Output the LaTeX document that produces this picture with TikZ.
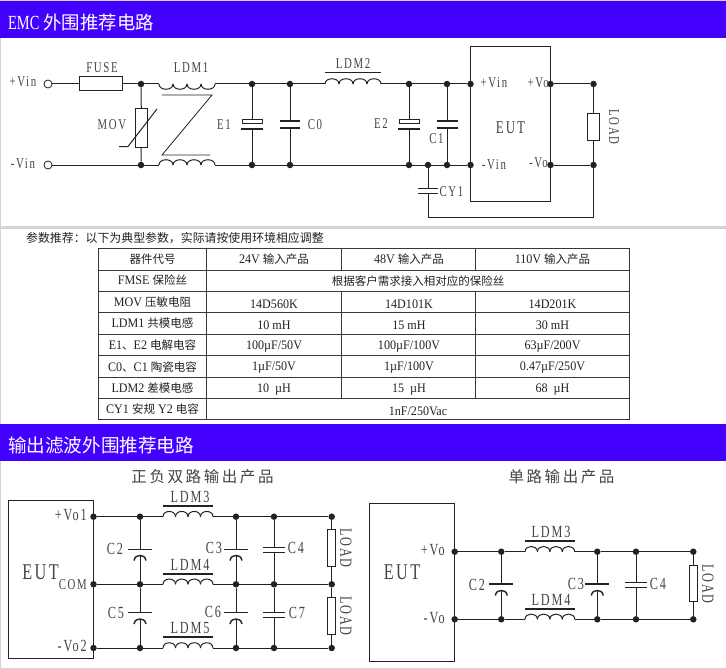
\documentclass[tikz,border=0pt]{standalone}
\usepackage{fontspec}
\usetikzlibrary{calc}
\setmainfont{Liberation Serif}
\newfontfamily\cjkfont{Noto Sans CJK SC}[Scale=1.0]
\newfontfamily\labfont[LetterSpace=11,FakeStretch=0.72]{Liberation Serif}
\newfontfamily\cellfont[FakeStretch=0.93]{Liberation Serif}
\newfontfamily\headfont[FakeStretch=0.72]{Liberation Serif}
\definecolor{banner}{HTML}{4400FF}
\definecolor{ink}{HTML}{222222}
\definecolor{lbl}{HTML}{444444}
\definecolor{frame}{HTML}{D4D4D4}
\newcommand\fsz[1]{\fontsize{#1}{#1}\selectfont}
\tikzset{
  wire/.style={draw=ink,line width=1pt},
  jn/.style={circle,fill=ink,draw=none,inner sep=0pt,minimum size=6.5pt},
  term/.style={circle,fill=white,draw=ink,line width=0.8pt,inner sep=0pt,minimum size=8pt},
  rbox/.style={rectangle,draw=ink,fill=white,line width=1pt,inner sep=0pt},
  lab/.style={font=\labfont\fsz{15},text=lbl,inner sep=0pt},
  labm/.style={font=\labfont\fsz{17},text=lbl,inner sep=0pt},
  cell/.style={font=\cellfont\fsz{13},text=ink,inner sep=0pt},
  ccell/.style={font=\cjkfont\fsz{11.5},text=ink,inner sep=0pt},
  head/.style={font=\fsz{19},text=white,inner sep=0pt,anchor=west},
  tline/.style={draw=ink!90,line width=0.9pt},
}
\newcommand\cj[1]{{\cjkfont\fsz{11.5}#1}}
% coil between two named coordinates, #3 = control height
\newcommand\coil[3]{\foreach \i/\j in {0/.25,.25/.5,.5/.75,.75/1}
  {\draw[wire] ($(#1)!\i!(#2)$) .. controls +(0,#3) and +(0,#3) .. ($(#1)!\j!(#2)$);}}
% name, x, plate1 y, plate2 y, half width, top node, bottom node
\newcommand\capN[7]{\coordinate (#1t) at (#2,#3);\coordinate (#1b) at (#2,#4);
  \draw[wire] (#6) -- (#1t) (#1b) -- (#7);
  \draw[wire,line width=1.3pt] (#2-#5,#3) -- (#2+#5,#3) (#2-#5,#4) -- (#2+#5,#4);}
\newcommand\capE[7]{\coordinate (#1t) at (#2,#3);\coordinate (#1b) at (#2,#4);
  \draw[wire] (#6) -- (#1t) (#1b) -- (#7);
  \draw[wire] (#2-#5+1,#3) rectangle (#2+#5-1,#3+4);
  \draw[wire,line width=1.3pt] (#2-#5,#4) -- (#2+#5,#4);}
\newcommand\capP[7]{\coordinate (#1t) at (#2,#3);\coordinate (#1b) at (#2,#4);
  \draw[wire] (#6) -- (#1t) (#1b) -- (#7);
  \draw[wire,line width=1.4pt] (#2-#5,#3) -- (#2+#5,#3);
  \draw[wire,line width=1.4pt] (#2-6,#4+5) .. controls (#2-5,#4+1) and (#2-3,#4) .. (#1b) .. controls (#2+3,#4) and (#2+5,#4+1) .. (#2+6,#4+5);}
\begin{document}
\begin{tikzpicture}[x=1pt,y=-1pt]
\useasboundingbox (0,0) rectangle (726,669);
\fill[white] (0,0) rectangle (726,669);
% frame and bands
\fill[frame] (0,0) rectangle (726,1.5);
\fill[frame] (0,0) rectangle (1.3,669);
\fill[frame] (0,226) rectangle (726,229);
\fill[frame] (0,667.5) rectangle (726,669);
\fill[banner] (0,1.5) rectangle (726,38);
\fill[banner] (0,423.5) rectangle (726,461);
\node[head] (h1) at (8,22.5) {{\headfont\fsz{20}EMC}\hspace{4pt}{\cjkfont\fsz{18.4}外围推荐电路}};
\node[head] (h2) at (8,445) {\cjkfont\fsz{18.6}输出滤波外围推荐电路};

% ===== EMC circuit =====
\node[term] (inP) at (48,84) {};
\node[term] (inN) at (48,165) {};
\node[rbox,minimum width=43pt,minimum height=14pt] (fuse) at (100.5,84) {};
\node[jn] (a1) at (141,84) {};
\node[jn] (a2) at (141,165) {};
\coordinate (L1a) at (159,84); \coordinate (L1b) at (215,84);
\coordinate (L1c) at (159,165); \coordinate (L1d) at (215,165);
\node[jn] (b1) at (252,84) {};
\node[jn] (b2) at (252,165) {};
\node[jn] (c1) at (290,84) {};
\node[jn] (c2) at (290,165) {};
\coordinate (L2a) at (325,84); \coordinate (L2b) at (381,84);
\node[jn] (d1) at (409,84) {};
\node[jn] (d2) at (409,165) {};
\node[jn] (cy) at (428,165) {};
\node[jn] (f1) at (447,84) {};
\node[jn] (f2) at (447,165) {};
\node[rbox,fill=none,minimum width=80pt,minimum height=154.5pt] (eut) at (510.5,124.25) {};
\node[jn] (g1) at (470.5,84) {};
\node[jn] (g2) at (470.5,165) {};
\node[jn] (o1) at (550.5,84) {};
\node[jn] (o2) at (550.5,165) {};
\node[jn] (l1) at (593.5,84) {};
\node[jn] (l2) at (593.5,165) {};
\node[rbox,minimum width=12pt,minimum height=39pt] (mov) at (141.5,128) {};
\node[rbox,minimum width=12pt,minimum height=27pt] (load1) at (593.5,126.5) {};
\draw[wire] (inP) -- (fuse) -- (a1) -- (L1a);
\draw[wire] (inN) -- (a2) -- (L1c);
\coil{L1a}{L1b}{7}
\coil{L1c}{L1d}{-7}
\draw[wire] (L1b) -- (b1) -- (c1) -- (L2a);
\coil{L2a}{L2b}{-7}
\draw[wire] (L2b) -- (d1) -- (f1) -- (g1);
\draw[wire] (L1d) -- (b2) -- (c2) -- (d2) -- (cy) -- (f2) -- (g2);
\draw[wire] (o1) -- (l1) -- (load1) -- (l2) -- (o2);
\draw[wire] (a1) -- (mov) -- (a2);
\draw[wire] (119,146.5) -- (128,146.5) -- (157,109);
\draw[wire,line width=0.8pt] (162,95) -- (212,95) -- (162,155) -- (210,155);
\draw[wire] (325,73) -- (381,73);
\capE{E1c}{252}{119.5}{129}{11}{b1}{b2}
\capN{C0c}{290}{121}{128}{10}{c1}{c2}
\capE{E2c}{409}{119.5}{129}{11}{d1}{d2}
\capN{C1c}{447}{121}{128}{10.5}{f1}{f2}
\coordinate (rc) at (593.5,217); \coordinate (rd) at (428,217);
\capN{CYc}{428}{188.5}{193.5}{10}{cy}{rd}
\draw[wire] (l2) -- (rc) -- (rd);
% labels
\node[lab] (tFuse) at (102,68) {FUSE};
\node[lab] (tL1) at (191,68) {LDM1};
\node[lab] (tL2) at (353,63.5) {LDM2};
\node[lab] (tVp) at (23,82) {+Vin};
\node[lab] (tVn) at (23,164) {-Vin};
\node[lab] (tMov) at (112,125) {MOV};
\node[lab] (tE1) at (224,124.5) {E1};
\node[lab] (tC0) at (315,124.5) {C0};
\node[lab] (tE2) at (381,124) {E2};
\node[lab] (tC1) at (436.5,139) {C1};
\node[lab] (tCY) at (451.5,192) {CY1};
\node[lab,font=\labfont\fsz{18}] (tEut) at (510.5,127.5) {EUT};
\node[lab] (tIp) at (494,83) {+Vin};
\node[lab] (tIn) at (494,165) {-Vin};
\node[lab,anchor=east] (tOp) at (549,83) {+Vo};
\node[lab,anchor=east] (tOn) at (548,162.5) {-Vo};
\node[lab,rotate=-90] (tLoad) at (614,127) {LOAD};

% ===== table =====
\node[font=\cjkfont\fsz{11.9},text=ink,inner sep=0pt,anchor=west] (note) at (26,238) {参数推荐：以下为典型参数，实际请按使用环境相应调整};
\draw[tline,line width=1.1pt] (98.7,248.3) rectangle (629.3,419.3);
\foreach \yy in {270,291,312.7,334,355.3,377.3,398.3} {\draw[tline] (98.7,\yy) -- (629.3,\yy);}
\draw[tline] (206.5,248.3) -- (206.5,419.3);
\draw[tline] (341.7,248.3) -- (341.7,270) (341.7,291) -- (341.7,398.3);
\draw[tline] (475.7,248.3) -- (475.7,270) (475.7,291) -- (475.7,398.3);
\node[ccell] (r1a) at (152.5,259) {器件代号};
\node[cell] (r1b) at (274,259) {24V \cj{输入产品}};
\node[cell] (r1c) at (409,259) {48V \cj{输入产品}};
\node[cell] (r1d) at (552.5,259) {110V \cj{输入产品}};
\node[cell] (r2a) at (152.5,280.5) {FMSE \cj{保险丝}};
\node[ccell] (r2b) at (418,281) {根据客户需求接入相对应的保险丝};
\node[cell] (r3a) at (152.5,302) {MOV \cj{压敏电阻}};
\node[cell] (r3b) at (274,304) {14D560K};
\node[cell] (r3c) at (409,304) {14D101K};
\node[cell] (r3d) at (552.5,304) {14D201K};
\node[cell] (r4a) at (152.5,323.5) {LDM1 \cj{共模电感}};
\node[cell] (r4b) at (274,325.5) {10 mH};
\node[cell] (r4c) at (409,325.5) {15 mH};
\node[cell] (r4d) at (552.5,325.5) {30 mH};
\node[cell] (r5a) at (152.5,345) {E1\cj{、}E2 \cj{电解电容}};
\node[cell] (r5b) at (274,347) {100µF/50V};
\node[cell] (r5c) at (409,347) {100µF/100V};
\node[cell] (r5d) at (552.5,347) {63µF/200V};
\node[cell] (r6a) at (152.5,367) {C0\cj{、}C1 \cj{陶瓷电容}};
\node[cell] (r6b) at (274,368) {1µF/50V};
\node[cell] (r6c) at (409,368) {1µF/100V};
\node[cell] (r6d) at (552.5,368) {0.47µF/250V};
\node[cell] (r7a) at (152.5,388) {LDM2 \cj{差模电感}};
\node[cell] (r7b) at (274,389.5) {10 \ µH};
\node[cell] (r7c) at (409,389.5) {15 \ µH};
\node[cell] (r7d) at (552.5,389.5) {68 \ µH};
\node[cell] (r8a) at (152.5,409) {CY1 \cj{安规} Y2 \cj{电容}};
\node[cell] (r8b) at (418,411) {1nF/250Vac};

% ===== dual output =====
\node[font=\cjkfont\fsz{15.5},text=lbl,inner sep=0pt] (t3) at (202.5,477) {正\,负\,双\,路\,输\,出\,产\,品};
\node[rbox,fill=none,minimum width=85pt,minimum height=157.5pt] (eut2) at (51,579.25) {};
\node[jn] (p1) at (93.5,516.7) {};
\node[jn] (p2) at (93.5,584.3) {};
\node[jn] (p3) at (93.5,648) {};
\foreach \nm/\xx in {q/140,s/236,u/274,v/331.7}{
  \node[jn] (\nm1) at (\xx,516.7) {};
  \node[jn] (\nm2) at (\xx,584.3) {};
  \node[jn] (\nm3) at (\xx,648) {};
}
\foreach \k/\yy/\by in {1/516.7/506,2/584.3/574,3/648/637.3}{
  \coordinate (la\k) at (163,\yy); \coordinate (lb\k) at (213,\yy);
  \coil{la\k}{lb\k}{-7}
  \draw[wire] (p\k) -- (q\k) -- (la\k);
  \draw[wire] (lb\k) -- (s\k) -- (u\k) -- (v\k);
  \draw[ink,line width=2pt] (163,\by) -- (213,\by);
}
\node[rbox,minimum width=7.5pt,minimum height=37pt] (load2) at (331.7,548.2) {};
\node[rbox,minimum width=7.5pt,minimum height=36.6pt] (load3) at (331.7,616) {};
\draw[wire] (v1) -- (load2) -- (v2) -- (load3) -- (v3);
\capP{C2a}{140}{549.3}{555.5}{12}{q1}{q2}
\capP{C5a}{140}{612.7}{619}{12}{q2}{q3}
\capP{C3a}{236}{549.3}{555.5}{12}{s1}{s2}
\capP{C6a}{236}{612.7}{619}{12}{s2}{s3}
\capN{C4a}{274}{547.7}{552.5}{11}{u1}{u2}
\capN{C7a}{274}{612.3}{617.3}{11}{u2}{u3}
\node[labm,anchor=east] (tv1) at (87,515) {+Vo1};
\node[labm,anchor=east] (tv3) at (87,646) {-Vo2};
\node[lab,font=\labfont\fsz{22.5}] (teut2) at (40.5,572) {EUT};
\node[lab,anchor=east,font=\labfont\fsz{15}] (tcom) at (87,585) {COM};
\node[labm] (tl3) at (190,497) {LDM3};
\node[labm] (tl4) at (190,565) {LDM4};
\node[labm] (tl5) at (190,628) {LDM5};
\node[labm] (tc2) at (115,549) {C2};
\node[labm] (tc3) at (214,548) {C3};
\node[labm] (tc4) at (296,548) {C4};
\node[labm] (tc5) at (116,613) {C5};
\node[labm] (tc6) at (213,612) {C6};
\node[labm] (tc7) at (297,613) {C7};
\node[labm,rotate=-90] (tll1) at (346,548) {LOAD};
\node[labm,rotate=-90] (tll2) at (346,616) {LOAD};

% ===== single output =====
\node[font=\cjkfont\fsz{15.5},text=lbl,inner sep=0pt] (t4) at (561.5,477) {单\,路\,输\,出\,产\,品};
\node[rbox,fill=none,minimum width=85pt,minimum height=157.5pt] (eut3) at (412,582.25) {};
\foreach \nm/\xx in {w/454.7,x/501.3,y/597.3,z/636,m/693.3}{
  \node[jn] (\nm1) at (\xx,551.7) {};
  \node[jn] (\nm2) at (\xx,619.3) {};
}
\foreach \k/\yy/\by in {1/551.7/541.3,2/619.3/608.7}{
  \coordinate (na\k) at (525,\yy); \coordinate (nb\k) at (574.7,\yy);
  \coil{na\k}{nb\k}{-7}
  \draw[wire] (w\k) -- (x\k) -- (na\k);
  \draw[wire] (nb\k) -- (y\k) -- (z\k) -- (m\k);
  \draw[ink,line width=2pt] (525,\by) -- (574.7,\by);
}
\node[rbox,minimum width=7.5pt,minimum height=36.3pt] (load4) at (693.3,583.2) {};
\draw[wire] (m1) -- (load4) -- (m2);
\capP{C2b}{501.3}{584}{590.5}{12}{x1}{x2}
\capP{C3b}{597.3}{584}{590.5}{12}{y1}{y2}
\capN{C4b}{636}{582.3}{587.3}{11}{z1}{z2}
\node[labm,anchor=east] (tv4) at (445,550) {+Vo};
\node[labm,anchor=east] (tv5) at (445,618) {-Vo};
\node[lab,font=\labfont\fsz{22.5}] (teut3) at (402,572) {EUT};
\node[labm] (tc2b) at (477,585) {C2};
\node[labm] (tc3b) at (576,584) {C3};
\node[labm] (tc4b) at (658,584) {C4};
\node[labm] (tl3b) at (551,532) {LDM3};
\node[labm] (tl4b) at (551,600) {LDM4};
\node[labm,rotate=-90] (tll3) at (708,584) {LOAD};
\end{tikzpicture}
\end{document}
